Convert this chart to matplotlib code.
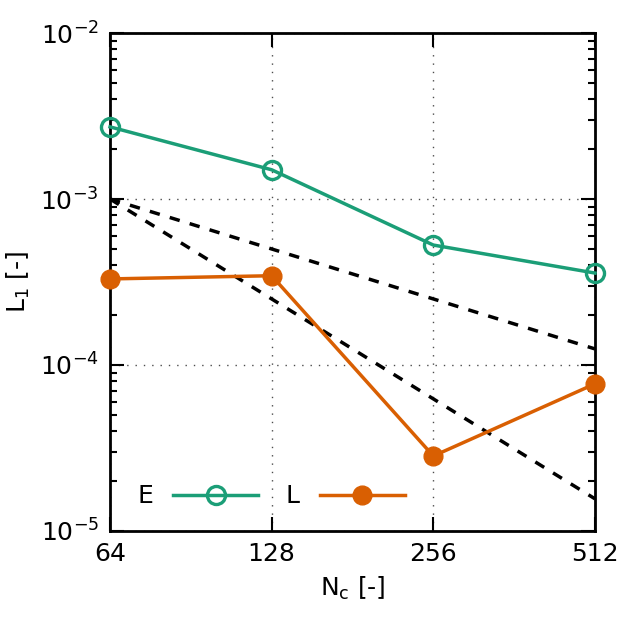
import numpy as np
import matplotlib.pyplot as plt
from matplotlib.ticker import FixedLocator, LogLocator, NullFormatter

nc = [64, 128, 256, 512]
err_e = [2.72e-3, 1.50e-3, 5.28e-4, 3.58e-4]
err_l = [3.30e-4, 3.45e-4, 2.83e-5, 7.7e-5]
ref_start = 1e-3

plt.rcParams['font.family'] = ['DejaVu Sans']
plt.rcParams['mathtext.default'] = 'regular'

fig = plt.figure(figsize=(6.23, 6.23), dpi=100)
ax = fig.add_axes([0.1766, 0.1477, 0.955 - 0.1766, 0.947 - 0.1477])

x = np.array(nc, dtype=float)
ax.plot(x, ref_start * (x[0] / x), 'k--', lw=2.5, dashes=(3, 3))
ax.plot(x, ref_start * (x[0] / x) ** 2, 'k--', lw=2.5, dashes=(3, 3))

ax.plot(nc, err_e, '-o', color='#1b9e77', lw=2.5, ms=13, mfc='none', mew=2.4,
        label='E', clip_on=False, zorder=5)
ax.plot(nc, err_l, '-o', color='#d95f02', lw=2.5, ms=13.5, mfc='#d95f02',
        label='L', clip_on=False, zorder=5)

ax.set_xscale('log', base=2)
ax.set_yscale('log')
ax.set_xlim(64, 512)
ax.set_ylim(1e-5, 1e-2)

ax.xaxis.set_major_locator(FixedLocator(nc))
ax.set_xticklabels([str(v) for v in nc])
ax.xaxis.set_minor_locator(FixedLocator([]))
ax.yaxis.set_major_locator(FixedLocator([1e-5, 1e-4, 1e-3, 1e-2]))
ax.set_yticklabels(['10$^{-5}$', '10$^{-4}$', '10$^{-3}$', '10$^{-2}$'])
ax.yaxis.set_minor_locator(LogLocator(base=10, subs=np.arange(2, 10)))
ax.yaxis.set_minor_formatter(NullFormatter())

ax.tick_params(which='both', direction='in', top=True, right=True, labelsize=18, width=1.5)
ax.tick_params(which='major', length=10, pad=8)
ax.tick_params(which='minor', length=5)
for s in ax.spines.values():
    s.set_linewidth(2)

ax.grid(True, which='major', ls=(0, (1, 5)), color='k', lw=1, alpha=0.7)

ax.set_xlabel('N$_c$ [-]', fontsize=18, labelpad=6)
ax.set_ylabel('L$_1$ [-]', fontsize=18, labelpad=6)

ax.legend(loc='lower left', ncol=2, frameon=False, markerfirst=False, fontsize=18,
          handlelength=3.4, columnspacing=1.1, handletextpad=0.8,
          bbox_to_anchor=(0.01, 0.0))

fig.savefig('out.png', dpi=100)
